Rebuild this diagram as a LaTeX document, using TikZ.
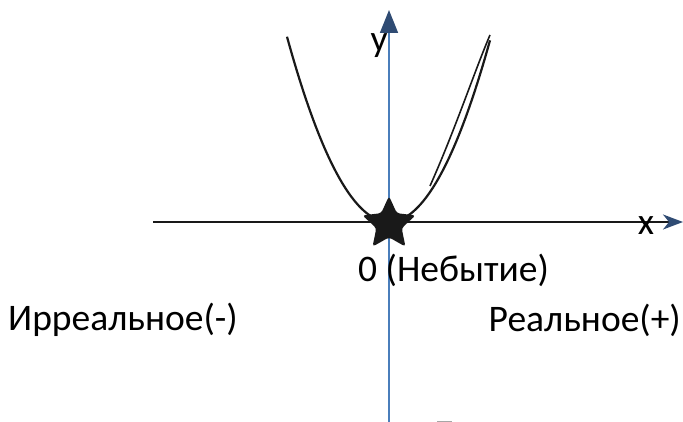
\documentclass[tikz,border=0pt]{standalone}
\usepackage{fontspec}
\setmainfont{Carlito}
\usetikzlibrary{shapes.geometric,arrows.meta}
\definecolor{axisblue}{HTML}{4A7EBB}
\definecolor{tipblue}{HTML}{2F4B73}
\tikzset{
  lbl/.style={font=\fontsize{37.5}{42}\selectfont, inner sep=0pt},
  curve/.style={line width=2.2pt, black!90},
}
\begin{document}
\begin{tikzpicture}[x=1pt,y=-1pt]
\useasboundingbox (0,0) rectangle (683,422);
% axes
\coordinate (xl) at (153,222);
\coordinate (xr) at (683,222);
\coordinate (yb) at (389,422);
\coordinate (yt) at (389,10);
\draw[line width=2pt, black!90, -{Stealth[length=20pt,width=15pt,inset=6pt,fill=tipblue,color=tipblue]}] (xl) -- (xr);
\draw[line width=1.6pt, axisblue, -{Triangle[length=23pt,width=18pt,fill=tipblue,color=tipblue]}] (yb) -- (yt);
% parabola
\draw[curve] plot[domain=-102:101, samples=80, smooth] ({389+\x},{222-0.0178*\x*\x});
\coordinate (d1) at (430,186);
\coordinate (d2) at (490,35);
\draw[line width=1.6pt, black!90] (d1) .. controls (455,130) and (475,70) .. (d2);
% star
\node[star, star points=5, star point ratio=2.1, fill=black!90, minimum size=56pt, inner sep=0pt, rounded corners=3pt] (o) at (389,224) {};
% labels
\node[lbl] (ylab) at (379,46) {y};
\node[lbl] (xlab) at (646,226) {x};
\node[lbl, anchor=west] (zero) at (358,270) {0 (Небытие)};
\node[lbl, anchor=west] (irr) at (8,320) {Ирреальное(-)};
\node[lbl, anchor=east] (real) at (681,320) {Реальное(+)};
\coordinate (g1) at (437,421);
\coordinate (g2) at (452,421);
\draw[gray!70, line width=1pt] (g1) -- (g2);
\end{tikzpicture}
\end{document}
